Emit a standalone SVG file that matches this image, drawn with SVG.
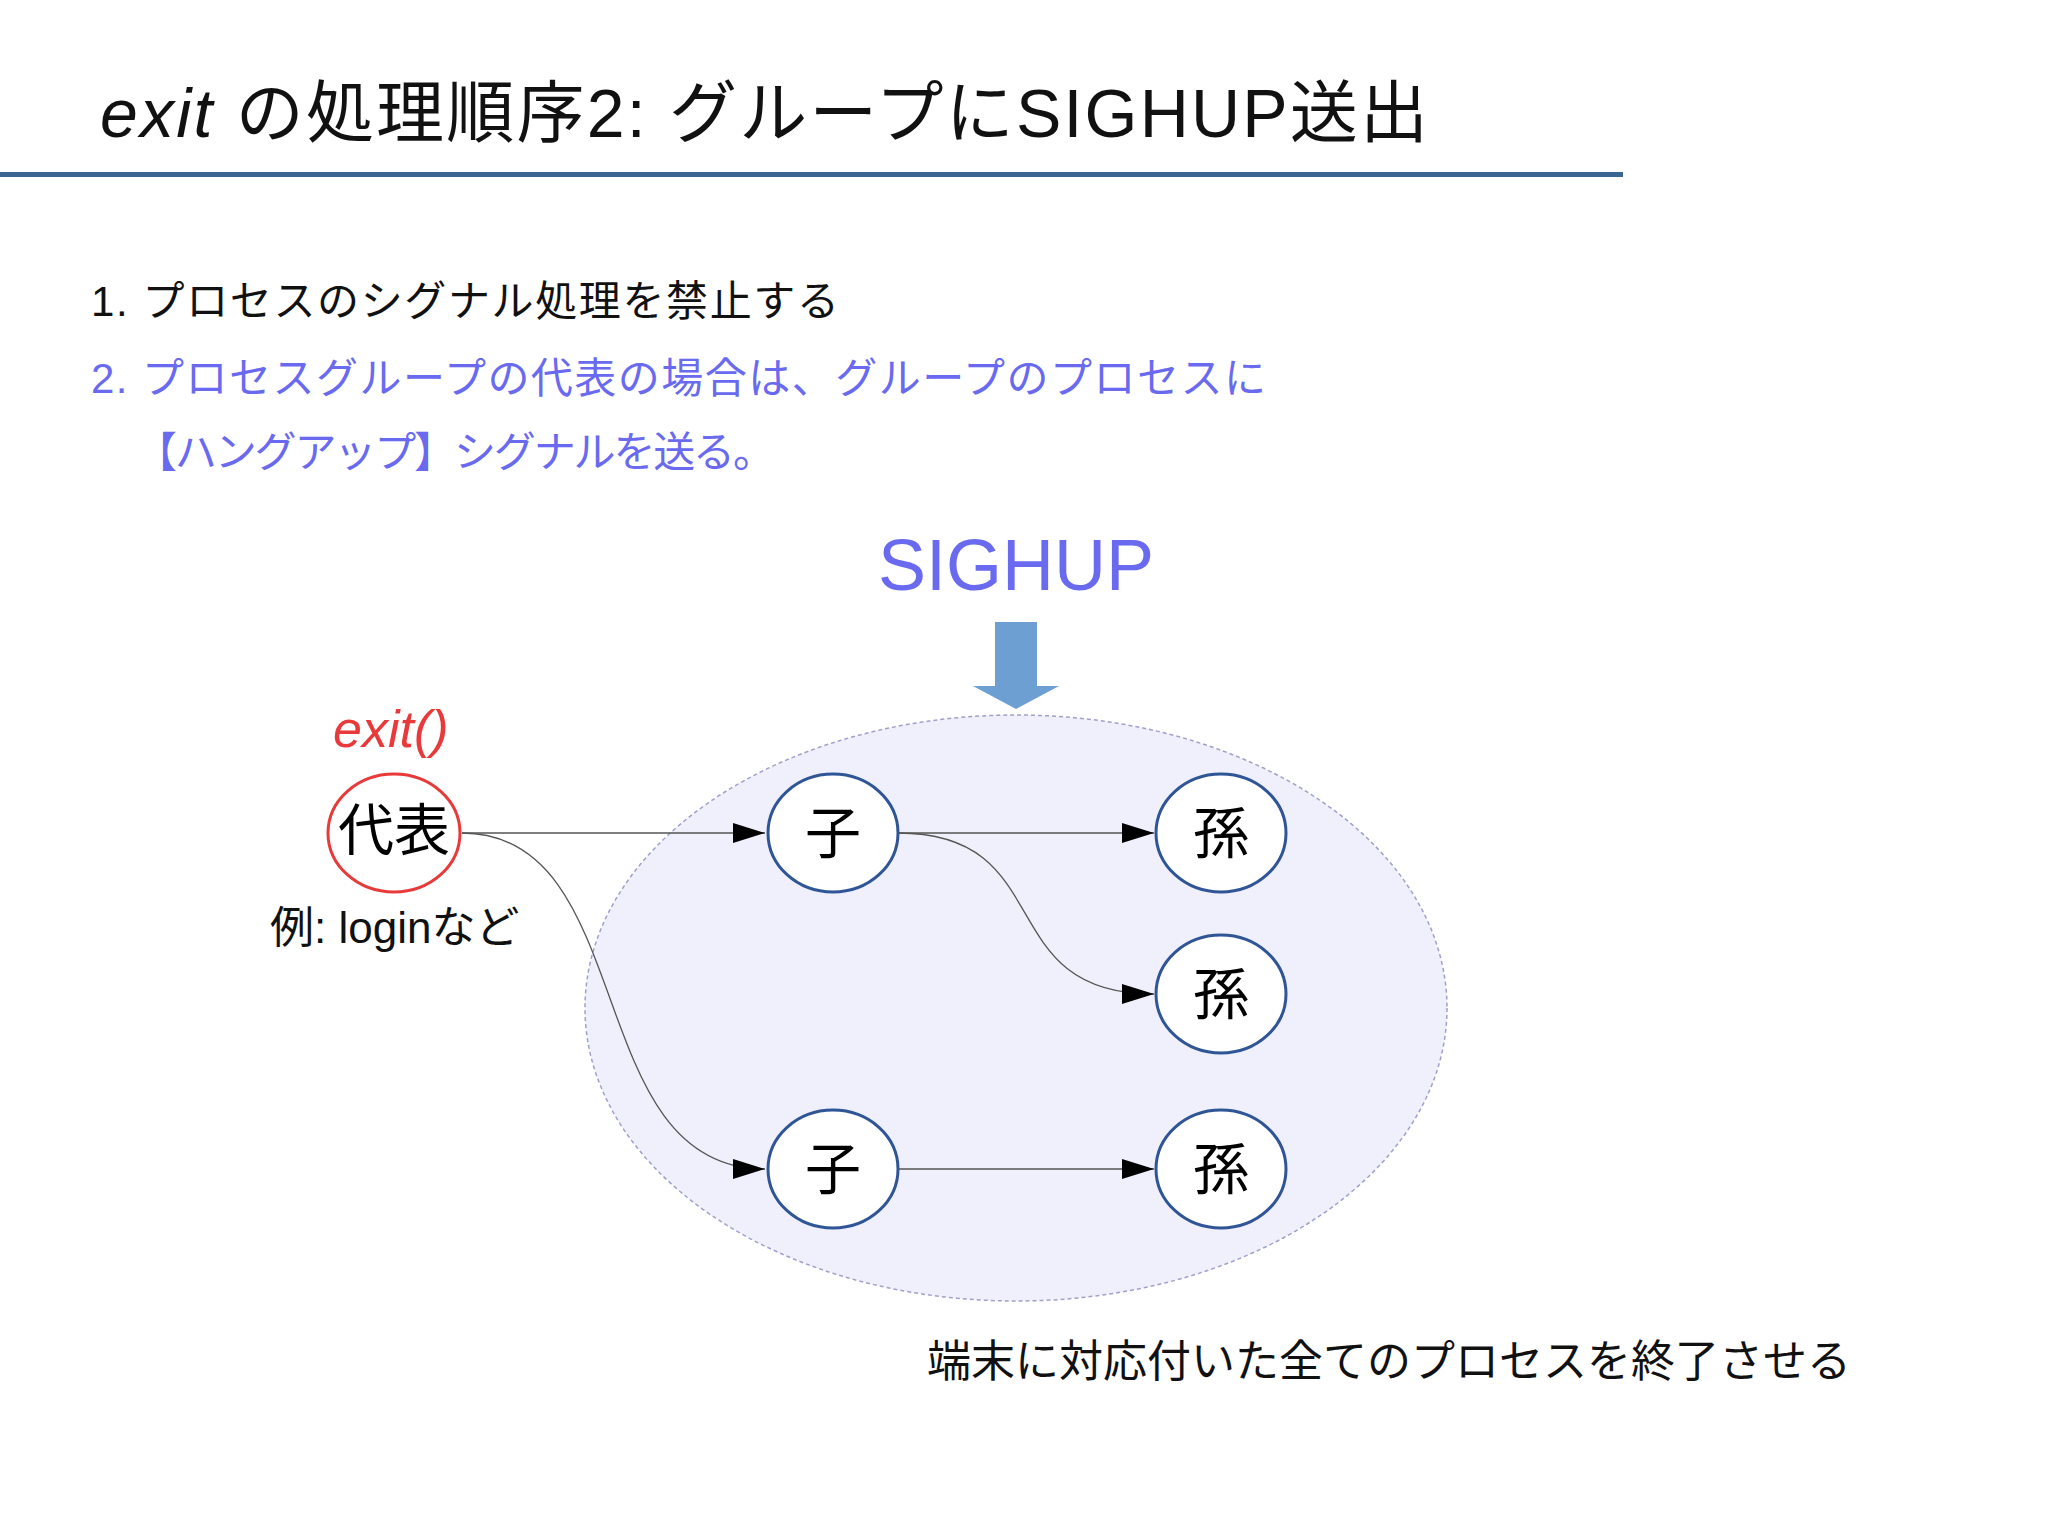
<svg xmlns="http://www.w3.org/2000/svg" width="2048" height="1535" viewBox="0 0 2048 1535">
<style>
text{font-family:"Liberation Sans","Noto Sans CJK JP",sans-serif}
.node{fill:#fff;stroke:#2f5597;stroke-width:3}
.lbl{font-size:56px;text-anchor:middle;fill:#000}
.edge{fill:none;stroke:#555;stroke-width:1.3;marker-end:url(#ah)}
</style>
<defs>
<marker id="ah" markerUnits="userSpaceOnUse" markerWidth="34" markerHeight="20" refX="32" refY="10" orient="auto"><path d="M0,0 L32,10 L0,20 Z" fill="#000"/></marker>
</defs>
<rect width="2048" height="1535" fill="#fff"/>
<text x="100" y="137" font-size="68" fill="#111" textLength="1328" lengthAdjust="spacing"><tspan font-style="italic">exit</tspan> の処理順序2: グループにSIGHUP送出</text>
<rect x="0" y="172" width="1623" height="5" fill="#3b6694"/>
<text x="91" y="316" font-size="42" fill="#111" textLength="748" lengthAdjust="spacing">1. プロセスのシグナル処理を禁止する</text>
<text x="91" y="393" font-size="42" fill="#6a6af0" textLength="1175" lengthAdjust="spacing">2. プロセスグループの代表の場合は、グループのプロセスに</text>
<text x="135" y="467" font-size="42" fill="#6a6af0" textLength="640" lengthAdjust="spacing">【ハングアップ】シグナルを送る。</text>
<text x="1016" y="590" font-size="72" fill="#6a6af0" text-anchor="middle">SIGHUP</text>
<path d="M995,622 H1037 V686 H1059 L1016,709 L973,686 H995 Z" fill="#6e9fd3"/>
<ellipse cx="1016" cy="1008" rx="431" ry="293" fill="#eff0fc" stroke="#a0a0cc" stroke-width="1.5" stroke-dasharray="4,3"/>
<g id="connectors">
<path class="edge" d="M462,833 H765"/>
<path class="edge" d="M462,833 C640,833 580,1169 765,1169"/>
<path class="edge" d="M898,833 H1154"/>
<path class="edge" d="M898,833 C1060,833 990,994 1154,994"/>
<path class="edge" d="M898,1169 H1154"/>
</g>
<text x="333" y="747" font-size="52" font-style="italic" fill="#e83a3a">exit()</text>
<g id="n_daihyo"><ellipse cx="394" cy="833" rx="66" ry="59" fill="#fff" stroke="#e83a3a" stroke-width="3"/><text class="lbl" x="394" y="850" font-size="47">代表</text></g>
<text x="270" y="943" font-size="44" fill="#111">例: loginなど</text>
<g id="n_ko1"><ellipse class="node" cx="833" cy="833" rx="65" ry="59"/><text class="lbl" x="833" y="853">子</text></g>
<g id="n_ko2"><ellipse class="node" cx="833" cy="1169" rx="65" ry="59"/><text class="lbl" x="833" y="1189">子</text></g>
<g id="n_mago1"><ellipse class="node" cx="1221" cy="833" rx="65" ry="59"/><text class="lbl" x="1221" y="853">孫</text></g>
<g id="n_mago2"><ellipse class="node" cx="1221" cy="994" rx="65" ry="59"/><text class="lbl" x="1221" y="1014">孫</text></g>
<g id="n_mago3"><ellipse class="node" cx="1221" cy="1169" rx="65" ry="59"/><text class="lbl" x="1221" y="1189">孫</text></g>
<text x="927" y="1377" font-size="44" fill="#111">端末に対応付いた全てのプロセスを終了させる</text>
</svg>
